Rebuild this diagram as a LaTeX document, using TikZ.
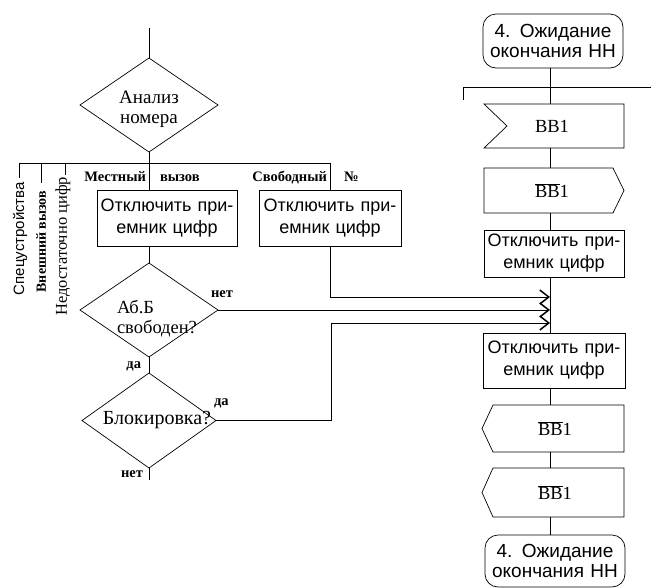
\documentclass[tikz,border=0pt]{standalone}
\usepackage{fontspec}
\setmainfont{Liberation Serif}
\setsansfont{Liberation Sans}
\usetikzlibrary{shapes.geometric,arrows.meta,calc}
\newcommand{\bbbar}{$\overline{\mbox{BB}}$1}
\begin{document}
\begin{tikzpicture}[x=1pt,y=-1pt,line width=0.7pt,
  every node/.style={inner sep=0pt,outer sep=0pt},
  dia/.style={draw,diamond,minimum width=138pt,minimum height=94pt},
  dtext/.style={font=\fontsize{18.5}{20}\selectfont},
  sbox/.style={draw,minimum width=140pt,minimum height=56pt,text width=140pt,align=center,
    font=\sffamily\fontsize{18}{22}\selectfont},
  term/.style={draw,rounded corners=13pt,minimum width=140pt,minimum height=54pt,text width=140pt,
    align=center,font=\sffamily\fontsize{19}{20}\selectfont},
  sig/.style={minimum width=140pt,minimum height=45pt,font=\fontsize{18.5}{20}\selectfont},
  lab/.style={font=\bfseries\fontsize{14.5}{16}\selectfont},
  barb/.style={-{Straight Barb[length=9pt,width=14pt,line width=1.5pt]}}]
\useasboundingbox (0,0) rectangle (651,587);

% ---------- left column ----------
\coordinate (top) at (149,28);
\node[dia] (d1) at (149,105) {};
\node[dtext,font=\fontsize{19}{20}\selectfont,align=center] (d1t) at (149,109) {Анализ\\номера};
\coordinate (br) at (149,163);
\coordinate (bl) at (19,163);
\coordinate (bsv) at (330,163);
\coordinate (tk1) at (19,178);
\coordinate (tk2) at (41,183);
\coordinate (tk3) at (65,175);
\coordinate (bk1) at (41,163);
\coordinate (bk2) at (65,163);

\node[sbox] (b1) at (167,218) {Отключить при-\\емник цифр};
\node[sbox,minimum width=142pt,text width=142pt] (b2) at (330,218) {Отключить при-\\емник цифр};
\node[dia] (d2) at (149,310) {};
\node[dtext,align=left,anchor=north west] (d2t) at (117,300) {Аб.Б\\свободен?};
\node[dia,minimum width=134pt,minimum height=95pt] (d3) at (149,420.5) {};
\node[dtext,font=\fontsize{20}{22}\selectfont] (d3t) at (157,420) {Блокировка?};
\coordinate (bot) at (149,480);

\draw (top) -- (d1.north);
\draw (d1.south) -- (br);
\draw (bl) -- (bsv);
\draw (bl) -- (tk1);
\draw (bk1) -- (tk2);
\draw (bk2) -- (tk3);
\draw (br) -- (br |- b1.north);
\draw (b1.south -| br) -- (d2.north);
\draw (d2.south) -- (d3.north);
\draw (d3.south) -- (bot);
\draw (bsv) -- (b2.north);

% rotated labels
\node[rotate=90,anchor=east,font=\sffamily\fontsize{15}{17}\selectfont] (l1) at (20,182) {Спецустройства};
\node[rotate=90,anchor=east,font=\bfseries\fontsize{14}{16}\selectfont] (l2) at (41,191) {Внешний вызов};
\node[rotate=90,anchor=east,font=\fontsize{16.5}{18}\selectfont] (l3) at (63,177) {Недостаточно цифр};

% branch labels
\node[lab,anchor=base east] (m1) at (146,181) {Местный};
\node[lab,anchor=base west] (m2) at (160,181) {вызов};
\node[lab,anchor=base east] (s1) at (327,181) {Свободный};
\node[lab,anchor=base west] (s2) at (344,181) {№};
\node[lab,anchor=base west] (n1) at (211,297) {нет};
\node[lab,anchor=base east] (y1) at (141,368) {да};
\node[lab,anchor=base west] (y2) at (214,405) {да};
\node[lab,anchor=base east] (n2) at (143,477) {нет};

% ---------- right column ----------
\coordinate (L) at (550,0);
\node[term] (t1) at (553,41) {4. Ожидание\\окончания НН};
\coordinate (hb) at (550,87);
\coordinate (hl) at (463,87);
\coordinate (hr) at (651,87);
\coordinate (hl2) at (463,100);
\node[sig,minimum height=44pt] (r1) at (554,126) {\hspace*{-4pt}BB1};
\node[sig] (r2) at (554,190.5) {\hspace*{-4pt}\bbbar};
\node[sbox,minimum height=47pt] (r3) at (554,253.5) {Отключить при-\\емник цифр};
\node[sbox,minimum height=55pt,minimum width=142pt,text width=142pt] (r4) at (554,360.5) {Отключить при-\\емник цифр};
\node[sig,minimum height=47pt,minimum width=142pt] (r5) at (553,428.5) {\hspace*{4pt}\bbbar};
\node[sig,minimum height=49pt,minimum width=142pt] (r6) at (553,492.5) {\hspace*{4pt}\bbbar};
\node[term,minimum height=52pt] (t2) at (555,561) {4. Ожидание\\окончания НН};

\draw (r1.north west) -- (r1.north east) -- (r1.south east) -- (r1.south west)
  -- ($(r1.west)+(23,0)$) -- cycle;
\draw (r2.north west) -- ($(r2.north east)+(-11,0)$) -- (r2.east)
  -- ($(r2.south east)+(-11,0)$) -- (r2.south west) -- cycle;
\draw (r5.west) -- ($(r5.north west)+(11,0)$) -- (r5.north east) -- (r5.south east)
  -- ($(r5.south west)+(11,0)$) -- cycle;
\draw (r6.west) -- ($(r6.north west)+(11,0)$) -- (r6.north east) -- (r6.south east)
  -- ($(r6.south west)+(11,0)$) -- cycle;

\draw (t1.south -| L) -- (hb);
\draw (hl) -- (hr);
\draw (hl) -- (hl2);
\draw (hb) -- (r1.north -| L);
\draw (r1.south -| L) -- (r2.north -| L);
\draw (r2.south -| L) -- (r3.north -| L);
\draw (r3.south -| L) -- (r4.north -| L);
\draw (r4.south -| L) -- (r5.north -| L);
\draw (r5.south -| L) -- (r6.north -| L);
\draw (r6.south -| L) -- (t2.north -| L);

% incoming connectors
\coordinate (in1) at (550,297);
\coordinate (in2) at (550,310);
\coordinate (in3) at (550,323);
\coordinate (j3) at (331,323);
\draw[barb] (b2.south) |- (in1);
\draw[barb] (d2.east) -- (in2);
\draw[barb] (d3.east) -| (j3) -- (in3);
\end{tikzpicture}
\end{document}
